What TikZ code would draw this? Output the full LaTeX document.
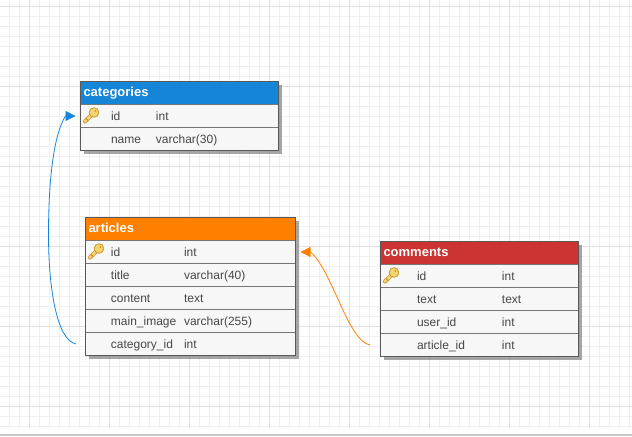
\documentclass[tikz,border=0pt]{standalone}
\usepackage{fontspec}
\setmainfont{Liberation Sans}
\usetikzlibrary{positioning,arrows.meta,shadows}

\definecolor{CatBlue}{HTML}{1585D8}
\definecolor{ArtOrange}{HTML}{FF8000}
\definecolor{ComRed}{HTML}{CC3333}
\definecolor{RowGray}{HTML}{F7F7F7}
\definecolor{RuleGray}{HTML}{777777}
\definecolor{KeyGold}{HTML}{F6D56E}
\definecolor{KeyEdge}{HTML}{C9982F}

\begin{document}
\begin{tikzpicture}[x=0.75pt, y=-0.75pt, node distance = 0pt,
HeadStyle/.style={draw=black!65, minimum height=17.25pt, outer sep=0pt, inner xsep=2.25pt, inner ysep=1pt,
                text=white, align=left, text height=1.7ex, text depth=.7ex,
                font=\fontsize{9.75}{11}\selectfont\bfseries},
RowStyle/.style={draw=RuleGray, fill=RowGray, minimum height=17.25pt, outer sep=0pt},
TxtStyle/.style={anchor=west, inner sep=0pt, outer sep=0pt, text=black!72, text height=1.5ex,
                text depth=.25ex, font=\fontsize{9}{11}\selectfont},
BackStyle/.style={draw=black!65, outer sep=0pt, inner sep=0pt,
                drop shadow={shadow xshift=2.25pt, shadow yshift=-2.25pt, fill=black!50, opacity=.7}},
LinkStyle/.style={line width=.6pt, -{Triangle[length=7.5pt, width=7.5pt]}},
KeyIcon/.pic={
  \draw [KeyEdge, line width=3pt, line cap=round] (-6.5,5.5) -- (0,-1);
  \draw [KeyGold, line width=1.9pt, line cap=round] (-6.5,5.5) -- (0,-1);
  \draw [KeyEdge, line width=.9pt] (-5.5,2.5) -- (-3,5);
  \draw [KeyEdge, fill=KeyGold, line width=.6pt] (2.5,-3.5) circle (4.8);
  \fill [KeyEdge] (4,-5) circle (1);
}]
\useasboundingbox (0,0) rectangle (632,436);

% background grid
\foreach \i in {0,...,62} \draw [black!6, line width=.5pt] (9.5+10*\i,0) -- (9.5+10*\i,428);
\foreach \i in {0,...,42} \draw [black!6, line width=.5pt] (0,6.7+10*\i) -- (632,6.7+10*\i);
\foreach \i in {0,...,7} \draw [black!12, line width=.5pt] (29.5+80*\i,0) -- (29.5+80*\i,428);
\foreach \i in {0,...,5} \draw [black!12, line width=.5pt] (0,6.7+80*\i) -- (632,6.7+80*\i);
\draw [black!22, line width=.8pt] (0,435) -- (632,435);

% categories
\node [BackStyle, minimum width=148.5pt, minimum height=51.75pt, anchor=north west] at (80.5,81.5) (catBack) {};
\node [HeadStyle, fill=CatBlue, minimum width=148.5pt, anchor=north west, text width=144pt] at (80.5,81.5) (cat0) {categories};
\node [RowStyle, minimum width=148.5pt, below=of cat0] (cat1) {};
\node [RowStyle, minimum width=148.5pt, below=of cat1] (cat2) {};
\node [TxtStyle] at ([xshift=22.9pt]cat1.west) (cat1a) {id};
\node [TxtStyle] at ([xshift=56.6pt]cat1.west) (cat1b) {int};
\node [TxtStyle] at ([xshift=22.9pt]cat2.west) (cat2a) {name};
\node [TxtStyle] at ([xshift=56.6pt]cat2.west) (cat2b) {varchar(30)};
\pic at ([xshift=8.25pt]cat1.west) {KeyIcon};
\draw [draw=black!65] (cat0.north west) rectangle (cat2.south east);

% articles
\node [BackStyle, minimum width=157.5pt, minimum height=103.5pt, anchor=north west] at (85.5,217.5) (artBack) {};
\node [HeadStyle, fill=ArtOrange, minimum width=157.5pt, anchor=north west, text width=153pt] at (85.5,217.5) (art0) {articles};
\node [RowStyle, minimum width=157.5pt, below=of art0] (art1) {};
\node [RowStyle, minimum width=157.5pt, below=of art1] (art2) {};
\node [RowStyle, minimum width=157.5pt, below=of art2] (art3) {};
\node [RowStyle, minimum width=157.5pt, below=of art3] (art4) {};
\node [RowStyle, minimum width=157.5pt, below=of art4] (art5) {};
\node [TxtStyle] at ([xshift=19.1pt]art1.west) (art1a) {id};
\node [TxtStyle] at ([xshift=73.9pt]art1.west) (art1b) {int};
\node [TxtStyle] at ([xshift=19.1pt]art2.west) (art2a) {title};
\node [TxtStyle] at ([xshift=73.9pt]art2.west) (art2b) {varchar(40)};
\node [TxtStyle] at ([xshift=19.1pt]art3.west) (art3a) {content};
\node [TxtStyle] at ([xshift=73.9pt]art3.west) (art3b) {text};
\node [TxtStyle] at ([xshift=19.1pt]art4.west) (art4a) {main\_image};
\node [TxtStyle] at ([xshift=73.9pt]art4.west) (art4b) {varchar(255)};
\node [TxtStyle] at ([xshift=19.1pt]art5.west) (art5a) {category\_id};
\node [TxtStyle] at ([xshift=73.9pt]art5.west) (art5b) {int};
\pic at ([xshift=8.25pt]art1.west) {KeyIcon};
\draw [draw=black!65] (art0.north west) rectangle (art5.south east);

% comments
\node [BackStyle, minimum width=148.5pt, minimum height=86.25pt, anchor=north west] at (380.5,241.5) (comBack) {};
\node [HeadStyle, fill=ComRed, minimum width=148.5pt, anchor=north west, text width=144pt] at (380.5,241.5) (com0) {comments};
\node [RowStyle, minimum width=148.5pt, below=of com0] (com1) {};
\node [RowStyle, minimum width=148.5pt, below=of com1] (com2) {};
\node [RowStyle, minimum width=148.5pt, below=of com2] (com3) {};
\node [RowStyle, minimum width=148.5pt, below=of com3] (com4) {};
\node [TxtStyle] at ([xshift=27.4pt]com1.west) (com1a) {id};
\node [TxtStyle] at ([xshift=91.1pt]com1.west) (com1b) {int};
\node [TxtStyle] at ([xshift=27.4pt]com2.west) (com2a) {text};
\node [TxtStyle] at ([xshift=91.1pt]com2.west) (com2b) {text};
\node [TxtStyle] at ([xshift=27.4pt]com3.west) (com3a) {user\_id};
\node [TxtStyle] at ([xshift=91.1pt]com3.west) (com3b) {int};
\node [TxtStyle] at ([xshift=27.4pt]com4.west) (com4a) {article\_id};
\node [TxtStyle] at ([xshift=91.1pt]com4.west) (com4b) {int};
\pic at ([xshift=8.25pt]com1.west) {KeyIcon};
\draw [draw=black!65] (com0.north west) rectangle (com4.south east);

% links
\coordinate (catOut) at ([xshift=-7.1pt]art5.west);
\coordinate (catTail) at ([xshift=-11.25pt]cat1.west);
\coordinate (catTip) at ([xshift=-3.75pt]cat1.west);
\coordinate (artOut) at ([xshift=-7.9pt]com4.west);
\coordinate (artTail) at ([xshift=11.25pt]art1.east);
\coordinate (artTip) at ([xshift=3.75pt]art1.east);
\draw [LinkStyle, CatBlue] (catOut) .. controls +(-20,-4) and +(0,50) .. (48.5,235)
  .. controls +(0,-70) and +(-9,14) .. (catTail) -- (catTip);
\draw [LinkStyle, ArtOrange] (artOut) .. controls +(-22,-4) and +(21.5,18) .. (artTail) -- (artTip);
\end{tikzpicture}
\end{document}
